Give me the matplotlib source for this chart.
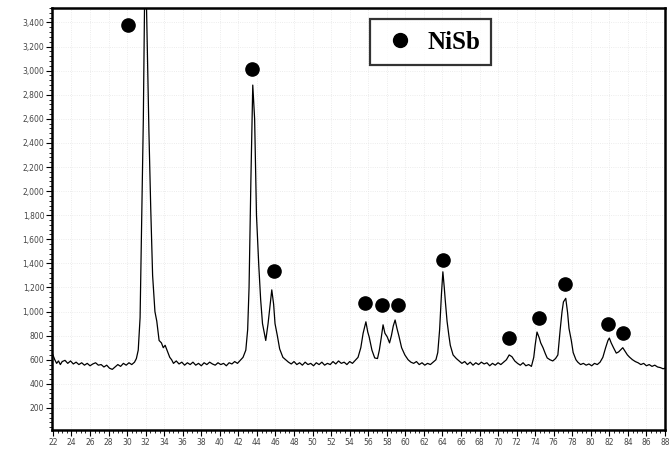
import matplotlib
matplotlib.use("Agg")
import matplotlib.pyplot as plt
from matplotlib.lines import Line2D
from matplotlib.ticker import MultipleLocator, FuncFormatter

# ---- XRD trace (2theta in deg, intensity in counts) ----
two_theta = [
    22.0, 22.2, 22.4, 22.6, 22.8, 23.0, 23.3, 23.6, 23.9, 24.2, 24.5, 24.8,
    25.1, 25.4, 25.7, 26.0, 26.3, 26.6, 26.9, 27.2, 27.5, 27.8, 28.1, 28.4,
    28.7, 29.0, 29.3, 29.6, 29.9, 30.2, 30.5, 30.8, 31.0, 31.2, 31.4, 31.6,
    31.75, 31.9, 32.05, 32.2, 32.35, 32.55, 32.75, 33.0, 33.2, 33.45, 33.7,
    33.9, 34.1, 34.3, 34.6, 34.8, 35.0, 35.3, 35.6, 35.9, 36.2, 36.5, 36.8,
    37.1, 37.4, 37.7, 38.0, 38.3, 38.6, 38.9, 39.2, 39.5, 39.8, 40.1, 40.4,
    40.7, 41.0, 41.3, 41.6, 41.9, 42.2, 42.5, 42.8, 43.0, 43.15, 43.35, 43.55,
    43.75, 43.95, 44.2, 44.4, 44.6, 44.95, 45.2, 45.45, 45.6, 45.8, 45.95,
    46.2, 46.45, 46.8, 47.1, 47.4, 47.7, 48.0, 48.3, 48.6, 48.9, 49.2, 49.5,
    49.8, 50.1, 50.4, 50.7, 51.0, 51.3, 51.6, 51.9, 52.2, 52.5, 52.8, 53.1,
    53.4, 53.7, 54.0, 54.3, 54.6, 54.9, 55.2, 55.45, 55.75, 55.95, 56.1,
    56.4, 56.7, 57.0, 57.2, 57.4, 57.6, 57.8, 58.05, 58.3, 58.5, 58.7, 58.9,
    59.1, 59.3, 59.6, 59.95, 60.3, 60.6, 60.9, 61.2, 61.5, 61.8, 62.1, 62.4,
    62.7, 63.0, 63.3, 63.5, 63.7, 63.9, 64.05, 64.2, 64.3, 64.5, 64.7, 64.85,
    65.15, 65.5, 65.8, 66.1, 66.4, 66.7, 67.0, 67.3, 67.6, 67.9, 68.2, 68.5,
    68.8, 69.1, 69.4, 69.7, 70.0, 70.3, 70.6, 70.9, 71.2, 71.5, 71.8, 72.1,
    72.4, 72.7, 73.0, 73.3, 73.6, 73.85, 74.0, 74.2, 74.45, 74.6, 74.85, 75.1,
    75.3, 75.6, 75.9, 76.2, 76.45, 76.7, 76.9, 77.05, 77.3, 77.5, 77.65, 77.9,
    78.1, 78.4, 78.6, 78.9, 79.2, 79.5, 79.8, 80.1, 80.4, 80.7, 81.0, 81.3,
    81.6, 81.85, 82.0, 82.2, 82.45, 82.75, 83.0, 83.2, 83.45, 83.7, 83.95,
    84.2, 84.5, 84.8, 85.1, 85.4, 85.7, 86.0, 86.3, 86.6, 86.9, 87.2, 87.5,
    87.8, 88.0,
]
intensity = [
    640, 600, 570, 590, 560, 585, 595, 570, 590, 565, 580, 560,
    575, 555, 570, 550, 565, 575, 555, 560, 540, 555, 530, 520,
    540, 560, 545, 570, 555, 575, 560, 580, 610, 680, 950, 1900,
    2600, 3700, 3700, 3100, 2500, 1850, 1300, 1000, 920, 760, 740,
    700, 720, 680, 620, 600, 570, 590, 565, 580, 555, 575, 560,
    580, 555, 570, 550, 575, 560, 580, 565, 555, 575, 560, 570,
    550, 575, 565, 585, 570, 595, 620, 680, 850, 1200, 2100, 2880,
    2600, 1800, 1380, 1100, 900, 760, 900, 1080, 1180, 1060, 900,
    800, 690, 620, 600, 580, 565, 585, 560, 575, 555, 580, 560,
    570, 550, 575, 560, 580, 555, 570, 560, 585, 565, 590, 570,
    580, 560, 585, 570, 595, 620, 700, 820, 915, 830, 790,
    680, 615, 610, 680, 780, 890, 820, 790, 740, 800, 880, 930,
    860, 800, 700, 640, 600, 580, 570, 585, 560, 575, 555, 570,
    560, 580, 600, 660, 850, 1150, 1330, 1200, 1100, 920, 800, 720,
    640, 610, 590, 570, 585, 560, 580, 555, 575, 560, 580, 565,
    575, 550, 570, 555, 575, 560, 580, 600, 640, 625, 590, 570,
    555, 575, 550, 560, 545, 620, 720, 830, 780, 740, 700, 650,
    615, 600, 590, 610, 640, 850, 1000, 1080, 1110, 990, 860, 760,
    660, 600, 580, 560, 570, 555, 565, 550, 570, 560, 580, 620,
    700, 760, 780, 740, 700, 655, 665, 680, 700, 670, 640,
    620, 600, 585, 575, 560, 570, 550, 560, 545, 555, 540, 535,
    525, 530,
]

# NiSb reflections marked with dots
nisb_theta = [30.1, 43.47, 45.85, 55.66, 57.5, 59.23, 64.08, 71.2, 74.44, 77.25, 81.89, 83.5]
nisb_int = [3380, 3015, 1335, 1070, 1055, 1055, 1430, 780, 945, 1230, 895, 820]

x_ticks = list(range(22, 90, 2))
y_ticks = list(range(200, 3600, 200))

fig = plt.figure(figsize=(6.7, 4.54), dpi=100)
ax = fig.add_axes([0.0776, 0.0529, 0.9149, 0.9295])

ax.plot(two_theta, intensity, color="black", lw=0.9)
ax.plot(nisb_theta, nisb_int, "o", color="black", ms=9.5, ls="none", clip_on=False)

ax.set_xlim(21.9, 88.0)
ax.set_ylim(17, 3520)
ax.set_xticks(x_ticks)
ax.set_yticks(y_ticks)
ax.xaxis.set_minor_locator(MultipleLocator(0.5))
ax.yaxis.set_minor_locator(MultipleLocator(40))
ax.yaxis.set_major_formatter(FuncFormatter(lambda v, p: f"{int(v):,}"))

ax.tick_params(which="major", length=4, width=0.8, labelsize=5.5,
               labelcolor="#444444", pad=1.5)
ax.tick_params(which="minor", length=2, width=0.6)

for s in ax.spines.values():
    s.set_linewidth(1.8)

ax.grid(True, which="major", color="#e6e6e6", ls=":", lw=0.6)
ax.set_axisbelow(True)

handle = Line2D([], [], marker="o", color="black", ls="none", ms=10)
leg = ax.legend([handle], ["NiSb"], loc="upper left",
                bbox_to_anchor=(0.51, 0.985), frameon=True, fancybox=False,
                prop={"family": "Liberation Serif", "weight": "bold", "size": 18},
                handletextpad=0.35, borderpad=0.45, handlelength=1.5,
                borderaxespad=0.2)
leg.get_frame().set_edgecolor("black")
leg.get_frame().set_linewidth(1.6)

fig.savefig("out.png", dpi=100)
